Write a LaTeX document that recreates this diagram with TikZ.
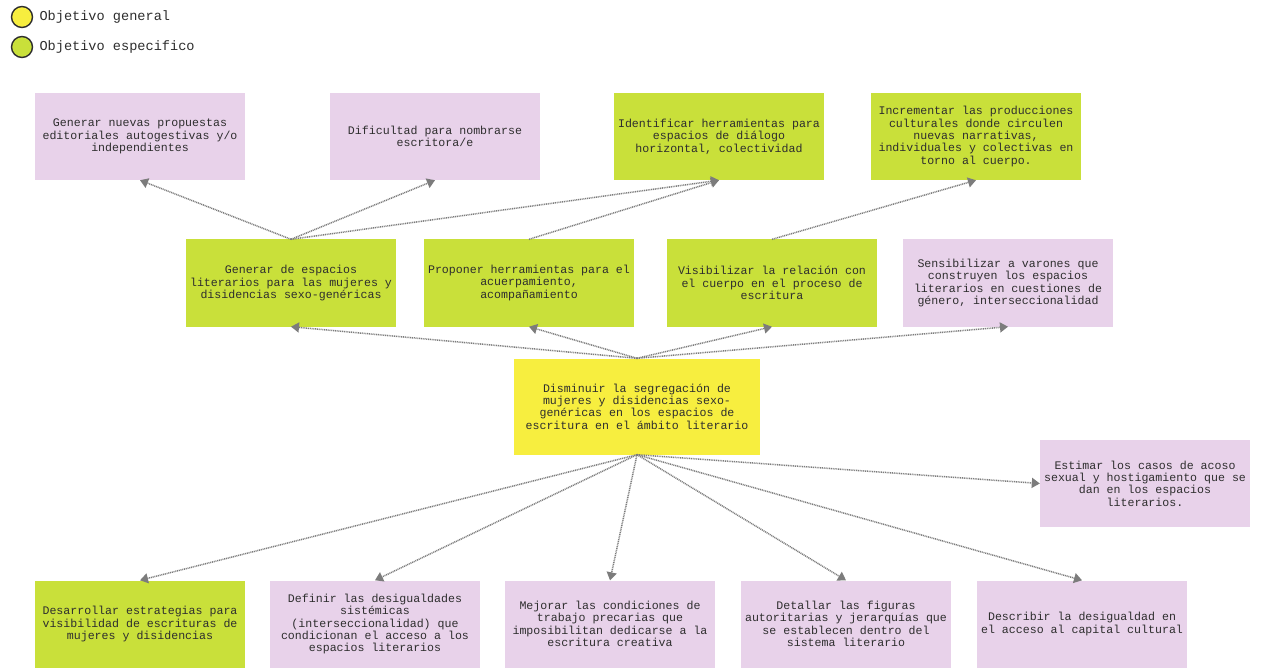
\documentclass[tikz,border=0pt]{standalone}
\usepackage{fontspec}
\setmonofont{Liberation Mono}
\usetikzlibrary{arrows.meta}
\definecolor{amarillo}{HTML}{F7EE3F}
\definecolor{verde}{HTML}{C9E03A}
\definecolor{lila}{HTML}{E8D2EA}
\definecolor{gristrazo}{HTML}{7C7C7C}
\definecolor{letra}{HTML}{2E2E2E}
\begin{document}
\begin{tikzpicture}[x=1pt,y=-1pt,>={Triangle[length=8pt,width=10pt]},
		caja/.style={minimum width=210pt,minimum height=87pt,inner sep=3pt,align=center,text=letra,font=\ttfamily\fontsize{11.6}{12.4}\selectfont},
		general/.style={caja,fill=amarillo,minimum width=246pt,minimum height=96pt},
		especifico/.style={caja,fill=verde},
		accion/.style={caja,fill=lila},
		flecha/.style={->,gristrazo,line width=1.5pt,dash pattern=on 1pt off 0.8pt},
		leyenda/.style={anchor=west,text=letra,font=\ttfamily\fontsize{13.6}{15}\selectfont}]
	\useasboundingbox[fill=white] (0,0) rectangle (1265,668);
	% leyenda
	\draw[fill=amarillo,draw=letra,line width=1.4pt] (22,17) circle (10.5);
	\node[leyenda] (leygen) at (36,17) {Objetivo general};
	\draw[fill=verde,draw=letra,line width=1.4pt] (22,47) circle (10.5);
	\node[leyenda] (leyesp) at (36,47) {Objetivo especifico};
	% fila superior
	\node[accion] (editorial) at (140,136.5) {Generar nuevas propuestas\\editoriales autogestivas y/o\\independientes};
	\node[accion] (nombrarse) at (435,136.5) {Dificultad para nombrarse\\escritora/e};
	\node[especifico] (dialogo) at (719,136.5) {Identificar herramientas para\\espacios de diálogo\\horizontal, colectividad};
	\node[especifico] (producciones) at (976,136.5) {Incrementar las producciones\\culturales donde circulen\\nuevas narrativas,\\individuales y colectivas en\\torno al cuerpo.};
	% fila media
	\node[especifico] (espacios) at (291,283) {Generar de espacios\\literarios para las mujeres y\\disidencias sexo-genéricas};
	\node[especifico] (acuerpar) at (529,283) {Proponer herramientas para el\\acuerpamiento,\\acompañamiento};
	\node[especifico] (cuerpo) at (772,283) {Visibilizar la relación con\\el cuerpo en el proceso de\\escritura};
	\node[accion] (varones) at (1008,283) {Sensibilizar a varones que\\construyen los espacios\\literarios en cuestiones de\\género, interseccionalidad};
	% objetivo general
	\node[general] (centro) at (637,406.5) {Disminuir la segregación de\\mujeres y disidencias sexo-\\genéricas en los espacios de\\escritura en el ámbito literario};
	\node[accion] (acoso) at (1145,483.5) {Estimar los casos de acoso\\sexual y hostigamiento que se\\dan en los espacios\\literarios.};
	% fila inferior
	\node[especifico] (estrategias) at (140,624) {Desarrollar estrategias para\\visibilidad de escrituras de\\mujeres y disidencias};
	\node[accion] (desigualdades) at (375,624) {Definir las desigualdades\\sistémicas\\(interseccionalidad) que\\condicionan el acceso a los\\espacios literarios};
	\node[accion] (precarias) at (610,624) {Mejorar las condiciones de\\trabajo precarias que\\imposibilitan dedicarse a la\\escritura creativa};
	\node[accion] (figuras) at (846,624) {Detallar las figuras\\autoritarias y jerarquías que\\se establecen dentro del\\sistema literario};
	\node[accion] (capital) at (1082,624) {Describir la desigualdad en\\el acceso al capital cultural};
	% flechas
	\foreach \dest in {espacios,acuerpar,cuerpo,varones}
		\draw[flecha] (centro.north) -- (\dest.south);
	\foreach \dest in {estrategias,desigualdades,precarias,figuras,capital}
		\draw[flecha] (centro.south) -- (\dest.north);
	\draw[flecha] (centro.south) -- (acoso.west);
	\foreach \dest in {editorial,nombrarse,dialogo}
		\draw[flecha] (espacios.north) -- (\dest.south);
	\draw[flecha] (acuerpar.north) -- (dialogo.south);
	\draw[flecha] (cuerpo.north) -- (producciones.south);
\end{tikzpicture}
\end{document}
